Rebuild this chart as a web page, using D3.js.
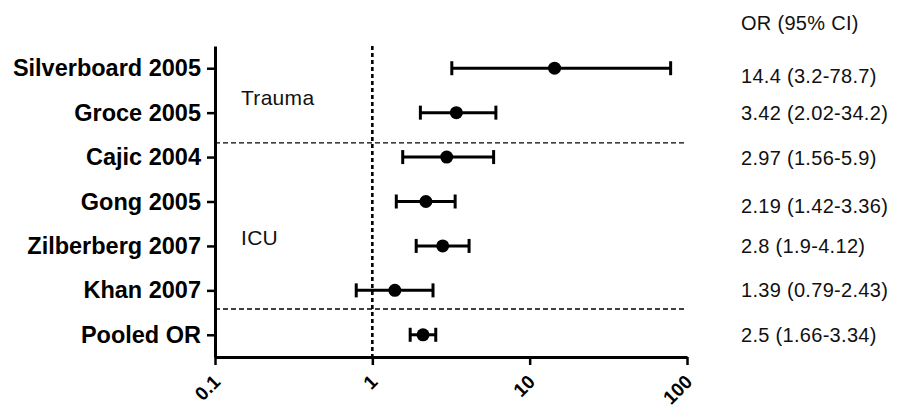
<!DOCTYPE html>
<html>
<head>
<meta charset="utf-8">
<script src="https://cdn.jsdelivr.net/npm/d3@7"></script>
<style>
  html, body { margin: 0; padding: 0; background: #fff; }
  svg { display: block; }
</style>
</head>
<body>
<svg id="chart" width="904" height="408"></svg>
<script>
// ---- data ----
const studies = ["Silverboard 2005", "Groce 2005", "Cajic 2004", "Gong 2005", "Zilberberg 2007", "Khan 2007", "Pooled OR"];
const orValues = [14.4, 3.42, 2.97, 2.19, 2.8, 1.39, 2.1];
const ciLow    = [3.2, 2.02, 1.56, 1.42, 1.9, 0.79, 1.74];
const ciHigh   = [78.7, 6.1, 5.9, 3.36, 4.12, 2.43, 2.53];
const ciLabels = ["14.4 (3.2-78.7)", "3.42 (2.02-34.2)", "2.97 (1.56-5.9)", "2.19 (1.42-3.36)", "2.8 (1.9-4.12)", "1.39 (0.79-2.43)", "2.5 (1.66-3.34)"];
const ciHeader = "OR (95% CI)";
const xTicks = [0.1, 1, 10, 100];
const xTickLabels = ["0.1", "1", "10", "100"];
const groupNames = ["Trauma", "ICU"];
const groupRows = [0.65, 3.82];       // row positions (in row units)
const separatorRows = [1.68, 5.42];   // dashed separators (in row units)
const referenceOR = 1;

// ---- layout ----
const svg = d3.select("#chart");
const x = d3.scaleLog().domain([0.1, 100]).range([215, 687]);
const y = d3.scaleLinear().domain([-0.5, 6.5]).range([46, 357]);
const labelOffsets = [8, 0, 1, 4, 0, 0, 0]; // right column baseline tweaks (px)
const font = "'Liberation Sans', Arial, sans-serif";

// reference line at OR = 1
svg.append("line")
  .attr("x1", x(referenceOR)).attr("x2", x(referenceOR))
  .attr("y1", y(-0.5)).attr("y2", y(6.5))
  .attr("stroke", "#000").attr("stroke-width", 2.6)
  .attr("stroke-dasharray", "4,3");

// separators
svg.selectAll("line.sep").data(separatorRows).join("line")
  .attr("class", "sep")
  .attr("x1", x(0.1)).attr("x2", x(100))
  .attr("y1", d => y(d)).attr("y2", d => y(d))
  .attr("stroke", "#000").attr("stroke-width", 1.3)
  .attr("stroke-dasharray", "5,3");

// y axis
const yAxis = d3.axisLeft(y).tickValues(d3.range(studies.length))
  .tickFormat(i => studies[i]).tickSize(8).tickSizeOuter(0).tickPadding(6);
const gy = svg.append("g").attr("transform", `translate(${x(0.1)},0)`).call(yAxis);
gy.select(".domain").attr("stroke-width", 3);
gy.selectAll(".tick line").attr("stroke-width", 2.5);
gy.selectAll(".tick text")
  .attr("font-family", font)
  .attr("font-weight", "bold").attr("font-size", 23.5)
  .attr("fill", "#000");

// x axis
const xAxis = d3.axisBottom(x).tickValues(xTicks)
  .tickFormat((d, i) => xTickLabels[i]).tickSize(8).tickSizeOuter(0);
const gx = svg.append("g").attr("transform", `translate(0,${y(6.5)})`).call(xAxis);
gx.select(".domain").attr("stroke-width", 3);
gx.selectAll(".tick line").attr("stroke-width", 2.5);
gx.selectAll(".tick text")
  .attr("font-family", font)
  .attr("font-weight", "bold").attr("font-size", 19).attr("fill", "#000")
  .attr("text-anchor", "end").attr("dy", null).attr("y", 0)
  .attr("transform", "translate(6,26) rotate(-45)");

// error bars
const capH = 7;
const rows = svg.append("g");
studies.forEach((s, i) => {
  const g = rows.append("g");
  g.append("line").attr("x1", x(ciLow[i])).attr("x2", x(ciHigh[i]))
    .attr("y1", y(i)).attr("y2", y(i)).attr("stroke", "#000").attr("stroke-width", 3);
  [ciLow[i], ciHigh[i]].forEach(v => {
    g.append("line").attr("x1", x(v)).attr("x2", x(v))
      .attr("y1", y(i) - capH).attr("y2", y(i) + capH)
      .attr("stroke", "#000").attr("stroke-width", 3);
  });
  g.append("circle").attr("cx", x(orValues[i])).attr("cy", y(i)).attr("r", 6.5).attr("fill", "#000");
});

// group labels
svg.selectAll("text.grp").data(groupNames).join("text")
  .attr("class", "grp")
  .attr("x", 241).attr("y", (d, i) => y(groupRows[i]))
  .attr("dominant-baseline", "central")
  .attr("font-family", font)
  .attr("font-size", 21).attr("letter-spacing", 0.3).attr("fill", "#111")
  .text(d => d);

// right column
svg.append("text").attr("x", 741).attr("y", 30)
  .attr("font-family", font).attr("font-size", 20).attr("letter-spacing", 0.3)
  .attr("fill", "#111").text(ciHeader);
svg.selectAll("text.ci").data(ciLabels).join("text")
  .attr("class", "ci")
  .attr("x", 741).attr("y", (d, i) => y(i) + 7 + labelOffsets[i])
  .attr("font-family", font).attr("font-size", 20).attr("letter-spacing", 0.3)
  .attr("fill", "#111").text(d => d);
</script>
</body>
</html>
